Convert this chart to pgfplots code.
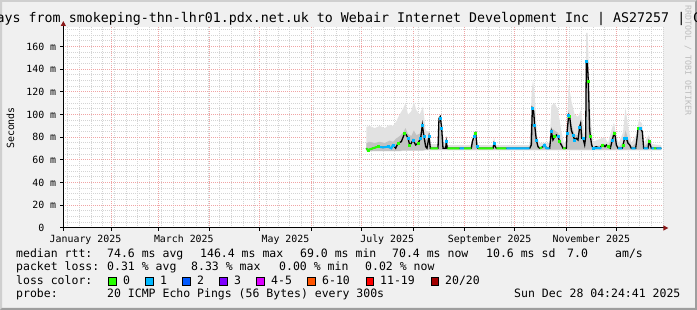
\documentclass[border=0pt]{standalone}
\usepackage{fontspec}
\setmainfont{DejaVu Sans Mono}
\setmonofont{DejaVu Sans Mono}
\usepackage{pgfplots}
\usepackage{pgfplotstable}
\pgfplotsset{compat=1.18}
\usetikzlibrary{arrows.meta}
\definecolor{bg}{HTML}{F0F0F0}
\definecolor{shadea}{HTML}{CFCFCF}
\definecolor{shadeb}{HTML}{9E9E9E}
\definecolor{mgrid}{HTML}{F0A4A4}
\definecolor{sgrid}{HTML}{D4D4D4}
\definecolor{arrowred}{HTML}{8B1A1A}
\definecolor{wm}{HTML}{BDBDBD}
\definecolor{smokeA}{HTML}{E2E2E2}
\definecolor{smokeB}{HTML}{C2C2C2}
\definecolor{lgreen}{HTML}{26FF00}
\definecolor{lcyan}{HTML}{00B8FF}
\definecolor{lblue}{HTML}{0059FF}
\definecolor{lpurple}{HTML}{7E00FF}
\definecolor{lmagenta}{HTML}{DD00FF}
\definecolor{lorange}{HTML}{FF5500}
\definecolor{lred}{HTML}{FF0000}
\definecolor{ldred}{HTML}{A10000}
\newcommand{\axfont}{\fontsize{9.9}{11}\selectfont}
\newcommand{\lgfont}{\fontsize{11.5}{13}\selectfont}
\newcommand{\ttlfont}{\fontsize{13.3}{15}\selectfont}

\pgfplotstableread{
d v
184.0 70.3
185.0 68.8
188.0 70.3
191.0 71.7
194.0 71.0
197.0 71.7
199.0 70.3
200.0 73.2
201.6 70.3
203.0 74.7
205.0 76.1
207.0 83.5
208.0 82.0
209.0 79.1
210.0 73.2
211.0 74.7
212.0 77.6
213.6 73.2
215.0 74.7
216.6 79.1
217.6 90.8
218.6 80.5
219.6 71.7
220.4 70.3
221.6 80.5
222.4 70.3
227.0 70.3
227.6 96.7
228.4 98.2
229.2 87.9
230.0 70.3
231.6 70.3
232.0 76.1
232.6 70.3
247.0 70.3
247.6 76.1
248.6 80.5
249.6 83.5
250.4 71.7
251.0 70.3
260.0 70.3
260.6 74.7
261.4 71.7
262.0 70.3
280.0 70.3
282.0 70.3
283.0 73.2
283.6 105.5
284.4 103.0
285.0 90.8
286.0 77.6
287.0 71.7
288.0 70.3
290.0 71.7
291.0 73.2
292.0 70.3
294.0 70.3
295.0 84.9
296.0 77.6
297.0 80.5
298.0 82.0
299.0 80.5
300.0 76.1
301.0 73.2
302.0 70.3
304.0 70.3
304.4 83.5
305.4 99.6
306.0 98.2
307.0 86.4
308.0 82.0
309.0 77.6
310.0 79.1
311.0 77.6
312.0 89.3
312.6 92.3
313.2 79.1
314.0 79.1
315.0 73.2
315.6 80.0
316.0 146.7
316.6 146.7
317.2 129.0
318.0 86.4
318.4 81.1
319.2 73.2
320.0 70.3
322.0 71.7
324.0 70.3
325.6 73.2
326.4 73.2
327.2 71.7
328.0 73.2
329.0 71.7
330.4 70.3
331.6 77.6
332.6 83.5
333.4 80.5
334.0 73.2
335.0 70.3
337.6 70.3
338.0 73.2
339.0 79.1
340.0 79.1
341.0 74.7
342.0 73.2
343.0 70.3
345.6 70.3
346.4 79.1
347.0 87.9
348.4 87.9
349.6 84.9
350.4 70.3
353.0 70.3
353.6 76.1
354.4 73.2
355.0 70.3
361.0 70.3
}\median

% outer smoke band: upper edge forward, lower edge back
\pgfplotstableread{
d y
184.0 89
186.0 90
189.0 88
192.0 90
195.0 88
198.0 91
200.0 90
202.0 94
204.0 100
206.0 105
207.5 110
209.0 100
211.0 103
212.5 111
214.0 104
216.0 100
218.0 107
219.6 86
221.6 85
223.0 74
226.8 74
228.0 100
229.5 92
230.5 74
231.6 78
232.6 73
247.0 73
248.6 86
250.4 78
251.2 73
260.0 73
260.6 80
261.6 73
282.0 73
283.3 122
284.0 130
285.0 118
286.5 80
288.0 75
294.0 75
295.0 108
297.0 110
299.0 104
301.0 85
302.5 75
304.2 76
305.4 126
307.0 112
309.0 100
311.0 98
312.8 104
314.2 90
315.5 80
315.9 172
316.8 172
317.6 135
318.6 95
320.0 76
325.0 79
327.0 80
329.0 75
331.0 86
332.6 93
334.0 80
335.5 75
338.0 84
339.5 106
341.0 90
343.0 75
346.0 82
347.5 95
349.5 92
350.6 75
353.5 82
355.0 74
361.0 73
361.0 68.5
219.6 68.5
218.0 68.0
206.0 68.0
204.0 67.5
184.0 67.5
}\smokeout

% inner smoke band
\pgfplotstableread{
d y
184.0 75
186.0 76
189.0 75
192.0 76
195.0 75
198.0 77
200.0 76
202.0 79
204.0 81
206.0 84
207.5 88
209.0 83
211.0 81
212.5 86
214.0 82
216.0 83
218.0 88
219.6 78
221.6 80
223.0 71.5
226.8 71.5
228.0 90
229.5 82
230.5 71.5
231.6 73
232.6 71
247.0 71
248.6 79
250.4 73
251.2 71
260.0 71
260.6 73
261.6 71
282.0 71
283.3 98
284.0 106
285.0 93
286.5 73
288.0 71.5
294.0 71.5
295.0 88
297.0 86
299.0 84
301.0 76
302.5 71.5
304.2 71.5
305.4 104
307.0 92
309.0 82
311.0 82
312.8 90
314.2 80
315.5 73
315.9 148
316.8 148
317.6 108
318.6 82
320.0 71.5
325.0 73
327.0 73
329.0 71.5
331.0 79
332.6 85
334.0 75
335.5 71.5
338.0 75
339.5 86
341.0 79
343.0 71.5
346.0 75
347.5 88
349.5 86
350.6 71.5
353.5 76
355.0 71.5
361.0 71
361.0 69
219.6 69
218.0 68.5
206.0 68.5
204.0 68
184.0 68
}\smokein

\pgfplotstableread{
d v
184.0 70.3
185.0 68.8
188.0 70.3
191.0 71.7
nan nan
222.4 70.3
227.0 70.3
nan nan
232.6 70.3
240.0 70.3
nan nan
242.5 70.3
247.0 70.3
nan nan
251.0 70.3
260.0 70.3
nan nan
262.0 70.3
268.0 70.3
nan nan
288.0 70.3
289.5 71.0
nan nan
302.0 70.3
303.5 70.3
nan nan
325.6 73.2
326.4 73.2
nan nan
329.0 71.7
330.2 70.5
nan nan
356.5 70.3
358.0 70.3
}\greenline

\pgfplotstableread{
d v
191.0 71.7
194.0 71.0
197.0 71.7
199.0 70.3
200.0 73.2
nan nan
240.0 70.3
242.5 70.3
nan nan
268.0 70.3
282.0 70.3
nan nan
290.0 71.7
291.0 73.2
292.0 70.3
294.0 70.3
nan nan
320.0 70.3
325.0 70.5
nan nan
335.0 70.3
337.6 70.3
nan nan
343.0 70.3
345.6 70.3
nan nan
350.4 70.3
353.0 70.3
nan nan
355.0 70.3
356.5 70.3
nan nan
358.0 70.3
361.0 70.3
}\blueline

\pgfplotstableread{
d v
185.0 68.8
191.0 71.7
203.0 74.7
207.0 83.5
210.0 73.2
215.0 74.7
249.6 83.5
297.0 80.5
300.0 76.1
306.0 98.2
317.2 129.0
318.4 81.1
325.6 73.2
329.0 71.7
332.6 83.5
338.0 73.2
347.0 87.9
353.6 76.1
}\greenpts

\pgfplotstableread{
d v
197.0 71.7
200.0 73.2
209.0 79.1
212.0 77.6
216.6 79.1
217.6 90.8
218.6 80.5
221.6 80.5
228.4 97.0
229.2 87.9
232.0 76.1
248.6 80.5
250.4 71.7
260.6 74.7
283.6 105.5
285.0 90.8
286.0 77.6
291.0 73.2
295.0 84.9
299.0 80.5
304.4 83.5
305.4 99.6
308.0 82.0
309.0 77.6
312.0 89.3
314.0 79.1
316.2 146.7
320.0 70.3
331.6 77.6
339.0 79.1
340.0 79.1
348.4 87.9
}\bluepts

\begin{document}
\begin{tikzpicture}[x=1pt,y=1pt]
\fill[bg] (0,0) rectangle (697,310);
\fill[shadea] (0,0) -- (0,310) -- (697,310) -- (695,308) -- (2,308) -- (2,2) -- cycle;
\fill[shadeb] (0,0) -- (697,0) -- (697,310) -- (695,308) -- (695,2) -- (2,2) -- cycle;

\begin{scope}
\clip (0,0) rectangle (697,310);
\node[anchor=base west, inner sep=0pt, font=\ttlfont] at (-3.5,287)
  {ays from smokeping-thn-lhr01.pdx.net.uk to Webair Internet Development Inc | AS27257 | GB};
\end{scope}
\node[rotate=-90, anchor=west, inner sep=0pt, font=\fontsize{8.3}{9}\selectfont, text=wm] at (688,305)
  {RRDTOOL / TOBI OETIKER};
\node[rotate=90, inner sep=0pt, font=\axfont] at (10.5,182) {Seconds};

\begin{axis}[
  at={(63.333pt,82pt)}, anchor=origin,
  scale only axis, width=600pt, height=201pt,
  xmin=2.2, xmax=362.2, ymin=0, ymax=177.2,
  axis background/.style={fill=white},
  axis lines=left,
  axis line style={black, line width=1pt},
  x axis line style={shorten <=-3pt, shorten >=-5pt, -{Triangle[width=5pt,length=5pt,color=arrowred]}},
  y axis line style={shorten <=-3pt, shorten >=-6pt, -{Triangle[width=5pt,length=5pt,color=arrowred]}},
  xtick={31,59,90,120,151,181,212,243,273,304,334},
  xticklabels={},
  minor xtick={5,12,...,362},
  ytick={0,20,...,160},
  yticklabels={0\phantom{ m},20 m,40 m,60 m,80 m,100 m,120 m,140 m,160 m},
  minor ytick={5,10,...,175},
  grid=both,
  major grid style={mgrid, dash pattern=on 1pt off 1pt, line width=1pt},
  minor grid style={sgrid, dash pattern=on 1pt off 1pt, line width=1pt},
  tick align=outside, major tick length=3pt, minor tick length=0pt,
  tick style={black, line width=1pt},
  extra x ticks={15.5,74.5,135.5,196.5,258,319},
  extra x tick labels={January 2025,March 2025,May 2025,July 2025,September 2025,November 2025},
  extra x tick style={grid=none, major tick length=0pt},
  xticklabel style={font=\axfont, anchor=north, inner sep=0pt, yshift=-7pt},
  yticklabel style={font=\axfont, anchor=east, inner sep=0pt, xshift=-4pt},
  unbounded coords=jump,
]
\addplot[fill=smokeA, draw=none] table[x=d,y=y] {\smokeout};
\addplot[fill=smokeB, draw=none] table[x=d,y=y] {\smokein};
\addplot[black, line width=1.3pt] table[x=d,y=v] {\median};
\addplot[lgreen, line width=2pt] table[x=d,y=v] {\greenline};
\addplot[lcyan, line width=2pt] table[x=d,y=v] {\blueline};
\addplot[only marks, mark=square*, mark size=1pt, lgreen] table[x=d,y=v] {\greenpts};
\addplot[only marks, mark=square*, mark size=1pt, lcyan] table[x=d,y=v] {\bluepts};
\end{axis}

\begin{scope}[every node/.style={anchor=base west, inner sep=0pt, font=\lgfont}]
\node at (16,52.7) {median rtt:};
\node at (107,52.7) {74.6 ms avg};
\node at (200,52.7) {146.4 ms max};
\node at (300,52.7) {69.0 ms min};
\node at (392,52.7) {70.4 ms now};
\node at (486,52.7) {10.6 ms sd};
\node at (567,52.7) {7.0};
\node at (615,52.7) {am/s};
\node at (16,39.3) {packet loss:};
\node at (107,39.3) {0.31 \% avg};
\node at (191,39.3) {8.33 \% max};
\node at (279,39.3) {0.00 \% min};
\node at (365,39.3) {0.02 \% now};
\node at (16,25.9) {loss color:};
\node at (123,25.9) {0};
\node at (160,25.9) {1};
\node at (197,25.9) {2};
\node at (234,25.9) {3};
\node at (271,25.9) {4-5};
\node at (322,25.9) {6-10};
\node at (380,25.9) {11-19};
\node at (445,25.9) {20/20};
\node at (16,12.5) {probe:};
\node at (107,12.5) {20 ICMP Echo Pings (56 Bytes) every 300s};
\node at (514,12.5) {Sun Dec 28 04:24:41 2025};
\end{scope}
\foreach \xx/\cc in {108.5/lgreen,145.5/lcyan,182.5/lblue,219.5/lpurple,256.5/lmagenta,307.5/lorange,366/lred,431/ldred}
  \filldraw[fill=\cc, draw=black, line width=1pt] (\xx,24.5) rectangle ++(7.5,7.5);
\pgfresetboundingbox
\path[use as bounding box] (0,0) rectangle (697,310);
\end{tikzpicture}
\end{document}
